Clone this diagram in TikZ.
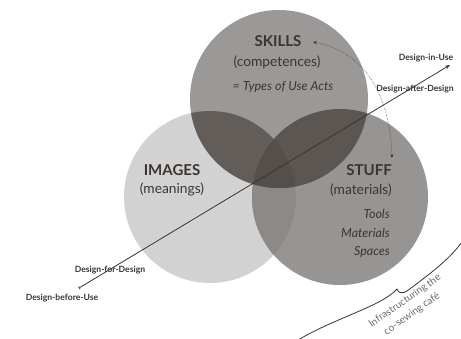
\documentclass[tikz,border=0pt]{standalone}
\usepackage{fontspec}
\setmainfont{Lato}
\usetikzlibrary{arrows.meta}
\definecolor{cL}{HTML}{D2D2D2}
\definecolor{cT}{HTML}{9B9998}
\definecolor{cR}{HTML}{979594}
\definecolor{cLT}{HTML}{625D59}
\definecolor{cTR}{HTML}{5B5652}
\definecolor{cLR}{HTML}{8C8987}
\definecolor{cC}{HTML}{544F4B}
\definecolor{ink}{HTML}{3B3431}
\definecolor{soft}{HTML}{6E6A68}
\tikzset{
  title/.style={text=ink,font=\fontsize{15}{16}\selectfont\bfseries,inner sep=0pt},
  sub/.style={text=ink,font=\fontsize{13.8}{15}\selectfont,inner sep=0pt},
  ital/.style={text=ink,font=\fontsize{12.5}{15}\selectfont\itshape,inner sep=0pt},
  lab/.style={text=ink,font=\fontsize{8.6}{9}\selectfont\bfseries,inner sep=0pt},
  conn/.style={draw=ink,line width=0.8pt},
  infrastyle/.style={text=soft,font=\fontsize{10}{13}\selectfont,rotate=35,inner sep=0pt},
}
\begin{document}
\begin{tikzpicture}[x=1pt,y=-1pt]
\useasboundingbox (0,0) rectangle (461,338);
\coordinate (L) at (210,197);
\coordinate (T) at (279,99);
\coordinate (R) at (340,197);
\fill[cL] (L) circle[radius=86pt];
\fill[cT] (T) circle[radius=89pt];
\fill[cR] (R) circle[radius=88pt];
\begin{scope}
  \clip (L) circle[radius=86pt];
  \fill[cLT] (T) circle[radius=89pt];
  \fill[cLR] (R) circle[radius=88pt];
\end{scope}
\begin{scope}
  \clip (T) circle[radius=89pt];
  \fill[cTR] (R) circle[radius=88pt];
  \clip (L) circle[radius=86pt];
  \fill[cC] (R) circle[radius=88pt];
\end{scope}

\node[title] (skills) at (278,41) {SKILLS};
\node[sub] (comp) at (277,62) {(competences)};
\node[ital] (types) at (283,87) {= Types of Use Acts};

\node[title] (images) at (172,170) {IMAGES};
\node[sub] (mean) at (172,189) {(meanings)};

\node[title,anchor=east] (stuff) at (392,170) {STUFF};
\node[sub,anchor=east] (mat) at (392,190) {(materials)};
\node[ital,anchor=east] (tools) at (390,214) {Tools};
\node[ital,anchor=east] (mats) at (390,233) {Materials};
\node[ital,anchor=east] (spaces) at (390,252) {Spaces};

\node[lab] (diu) at (426,58) {Design-in-Use};
\node[lab] (dad) at (415,89) {Design-after-Design};
\node[lab] (dfd) at (110,270) {Design-for-Design};
\node[lab] (dbu) at (62,298) {Design-before-Use};

\coordinate (lineA) at (79,288);
\coordinate (lineB) at (450,65);
\draw[conn,{Bar[width=3pt]}-{Stealth[length=5pt,width=4pt]}] (lineA) -- (lineB);

\coordinate (cA) at (313,42);
\coordinate (cB) at (392,158);
\draw[draw=ink,line width=0.5pt,densely dotted,{Stealth[length=4pt,width=3pt]}-{Stealth[length=4pt,width=3pt]}]
  (cA) .. controls (365,52) and (390,95) .. (cB);

\coordinate (bA) at (298,340);
\coordinate (bTip) at (397,289);
\coordinate (bB) at (462,242);
\draw[draw=ink,line width=0.8pt]
  (bA) .. controls (335,318) and (382,306) .. (bTip)
  .. controls (400,296) and (405,293) .. (415,285)
  .. controls (435,270) and (450,258) .. (bB);

\node[infrastyle] (infra1) at (405,301) {Infrastructuring the};
\node[infrastyle] (infra2) at (412,314) {co-sewing café};
\end{tikzpicture}
\end{document}
